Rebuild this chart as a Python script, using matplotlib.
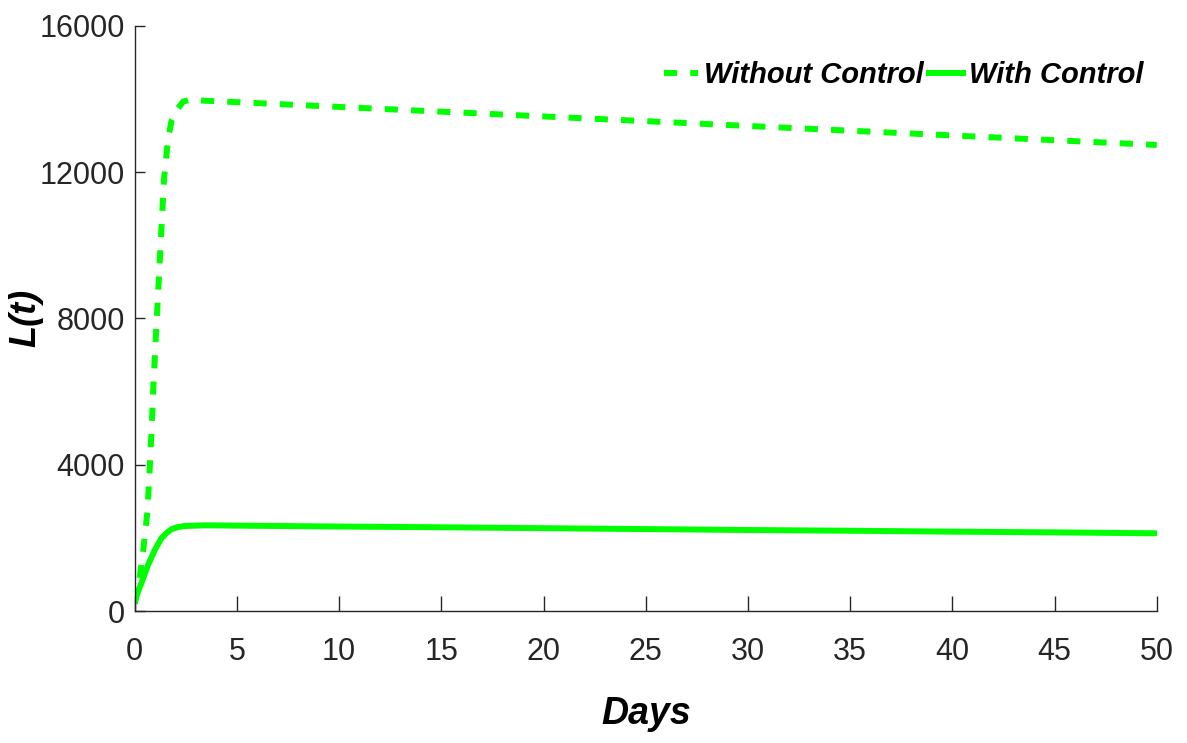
import matplotlib
matplotlib.use('Agg')
import matplotlib.pyplot as plt

# Valores
t_sin = [0, 0.16, 0.41, 0.62, 0.73, 0.83, 0.91, 1.01, 1.11, 1.43, 1.63, 1.80, 2.12, 2.36, 2.72, 3.4,
         5, 10, 15, 20, 25, 30, 35, 40, 45, 50]
L_sin = [200, 574, 1621, 2715, 3855, 4994, 6115, 7244, 8319, 11782, 12895, 13400, 13742, 13923, 13980, 13950,
         13910, 13780, 13650, 13520, 13390, 13260, 13130, 13000, 12870, 12740]

t_con = [0, 0.32, 0.65, 0.98, 1.30, 1.55, 1.79, 2.10, 2.45, 3.4, 5, 10, 15, 20, 25, 30, 35, 40, 45, 50]
L_con = [300, 757, 1257, 1667, 1987, 2130, 2233, 2295, 2324, 2343, 2335, 2310, 2290, 2265, 2240, 2215,
         2195, 2170, 2150, 2125]

xticks = list(range(0, 51, 5))
yticks = [0, 4000, 8000, 12000, 16000]

plt.rcParams['font.family'] = ['Liberation Sans', 'DejaVu Sans']
gris = '#262626'

fig = plt.figure(figsize=(11.87, 7.43), dpi=100)
ax = fig.add_axes([0.1135, 0.1776, 0.861, 0.7878])

ax.plot(t_sin, L_sin, color='#00ff00', linewidth=4.3, linestyle=(0, (2.2, 2.2)),
        dash_capstyle='butt', label='Without Control')
ax.plot(t_con, L_con, color='#00ff00', linewidth=4.3, label='With Control')

ax.set_xlim(0, 50)
ax.set_ylim(0, 16000)
ax.set_xticks(xticks)
ax.set_yticks(yticks)
ax.spines['top'].set_visible(False)
ax.spines['right'].set_visible(False)
for s in ['left', 'bottom']:
    ax.spines[s].set_color(gris)
    ax.spines[s].set_linewidth(1.0)
ax.tick_params(axis='both', direction='in', colors=gris, labelsize=22, width=1.0)
ax.tick_params(axis='x', length=11, pad=19)
ax.tick_params(axis='y', length=7, pad=7)

ax.set_xlabel('Days', fontsize=27, fontweight='bold', fontstyle='italic')
ax.xaxis.set_label_coords(0.5, -0.145)
ax.set_ylabel('L(t)', fontsize=26, fontweight='bold', fontstyle='italic')
ax.yaxis.set_label_coords(-0.089, 0.5)

ax.legend(loc='upper right', ncol=2, frameon=False, handlelength=1.17, handletextpad=0.2,
          columnspacing=0.17, borderpad=0, borderaxespad=0, bbox_to_anchor=(0.987, 0.94),
          prop={'size': 21, 'weight': 'bold', 'style': 'italic'})

fig.savefig('out.png', dpi=100)
